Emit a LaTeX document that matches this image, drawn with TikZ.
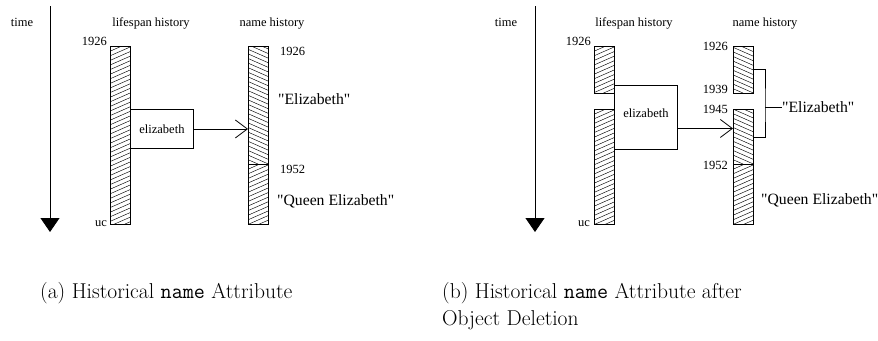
\documentclass[tikz,border=0pt]{standalone}
\usepackage{fontspec}
\newfontfamily\tms{Liberation Serif}
\usetikzlibrary{arrows.meta,positioning}
\tikzset{
  tlbl/.style={font=\tms\fontsize{12.5}{14}\selectfont, inner sep=0pt},
  nlbl/.style={font=\tms\fontsize{15.7}{18}\selectfont, inner sep=0pt},
  caplbl/.style={font=\fontsize{21.5}{27}\selectfont, inner sep=0pt, align=left},
  hline/.style={line width=0.45pt},
  barbase/.style={draw, line width=0.9pt, minimum width=20pt, inner sep=0pt,
                  anchor=north west},
  hatchne/.style={barbase, path picture={
      \foreach \k in {0,...,46}
        \draw[hline] ([yshift={-\k*4.6pt}]path picture bounding box.north west)
          -- ++(25pt,11pt);}},
  hatchnw/.style={barbase, path picture={
      \foreach \k in {0,...,46}
        \draw[hline] ([yshift={\k*4.6pt}]path picture bounding box.south west)
          -- ++(25pt,-11pt);}},
  objbox/.style={draw, line width=0.9pt, inner sep=0pt, minimum width=63pt,
                 anchor=north west, font=\tms\fontsize{12.5}{14}\selectfont},
  timeax/.style={line width=0.9pt, -{Triangle[width=19pt,length=14pt]}},
  refarrow/.style={line width=0.8pt, -{Straight Barb[length=12pt,width=18pt]}},
}

\begin{document}
\begin{tikzpicture}[x=1pt, y=-1pt]
  \useasboundingbox (0,0) rectangle (878,340);

  % (a) eixo do tempo
  \coordinate (tA0) at (50,6);
  \coordinate (tA1) at (50,232);
  \draw[timeax] (tA0) -- (tA1);
  \node[tlbl, anchor=base] (timeA) at (22,26) {time};

  % (a) historias
  \node[tlbl, anchor=base] (lifeAh) at (151,26) {lifespan history};
  \node[tlbl, anchor=base] (nameAh) at (272,26) {name history};
  \node[hatchne, minimum height=178pt] (lifeA) at (110,46) {};
  \node[hatchnw, minimum height=118pt] (nameA1) at (248,46) {};
  \node[hatchne, minimum height=60pt] (nameA2) at (248,164) {};
  \draw[line width=0.9pt] (nameA2.north west) -- (nameA2.north east);

  % (a) objeto
  \node[objbox, minimum height=39pt] (elizA) at (130,109) {elizabeth};
  \draw[refarrow] (elizA.east) -- (elizA.east -| nameA1.west);

  % (a) legendas
  \node[tlbl, anchor=base east] (yA1) at (107,45) {1926};
  \node[tlbl, anchor=base east] (ucA) at (107,226) {uc};
  \node[tlbl, anchor=base west] (yA2) at (280,55) {1926};
  \node[tlbl, anchor=base west] (yA3) at (280,173) {1952};
  \node[nlbl, anchor=base west] (valA1) at (278,104) {"Elizabeth"};
  \node[nlbl, anchor=base west] (valA2) at (277,205) {"Queen Elizabeth"};

  % (b) eixo do tempo
  \coordinate (tB0) at (535,6);
  \coordinate (tB1) at (535,232);
  \draw[timeax] (tB0) -- (tB1);
  \node[tlbl, anchor=base] (timeB) at (506,26) {time};

  % (b) historias
  \node[tlbl, anchor=base] (lifeBh) at (634,26) {lifespan history};
  \node[tlbl, anchor=base] (nameBh) at (765,26) {name history};
  \node[hatchne, minimum height=47pt] (lifeB1) at (594,46) {};
  \node[hatchne, minimum height=115pt] (lifeB2) at (594,109) {};
  \node[hatchnw, minimum height=47pt] (nameB1) at (733,46) {};
  \node[hatchnw, minimum height=55pt] (nameB2) at (733,109) {};
  \node[hatchne, minimum height=60pt] (nameB3) at (733,164) {};
  \draw[line width=0.9pt] (nameB3.north west) -- (nameB3.north east);

  % (b) objeto
  \node[objbox, minimum height=64pt, text depth=8pt] (elizB) at (614,85) {elizabeth};
  \coordinate (arrB) at ([yshift=-11pt]elizB.east);
  \draw[refarrow] (arrB) -- (arrB -| nameB2.west);

  % (b) chave
  \node[nlbl, anchor=west] (valB1) at (782,107) {"Elizabeth"};
  \coordinate (brk) at (765,107);
  \draw[line width=0.8pt] ([yshift=-23pt]nameB1.north east) -| (brk)
    |- ([yshift=-28pt]nameB2.north east);
  \draw[line width=0.8pt] (brk) -- (valB1.west);

  % (b) legendas
  \node[tlbl, anchor=base east] (yB1) at (591,45) {1926};
  \node[tlbl, anchor=base east] (ucB) at (590,226) {uc};
  \node[tlbl, anchor=base east] (yB2) at (728,50) {1926};
  \node[tlbl, anchor=base east] (yB3) at (728,93) {1939};
  \node[tlbl, anchor=base east] (yB4) at (728,113) {1945};
  \node[tlbl, anchor=base east] (yB5) at (728,169) {1952};
  \node[nlbl, anchor=base west] (valB2) at (761,204) {"Queen Elizabeth"};

  % subtitulos
  \node[caplbl, anchor=base west] (capA) at (40,298) {(a) Historical \texttt{name} Attribute};
  \node[caplbl, anchor=north west] (capB) at (442,282)
    {(b) Historical \texttt{name} Attribute after\\Object Deletion};

\end{tikzpicture}
\end{document}
